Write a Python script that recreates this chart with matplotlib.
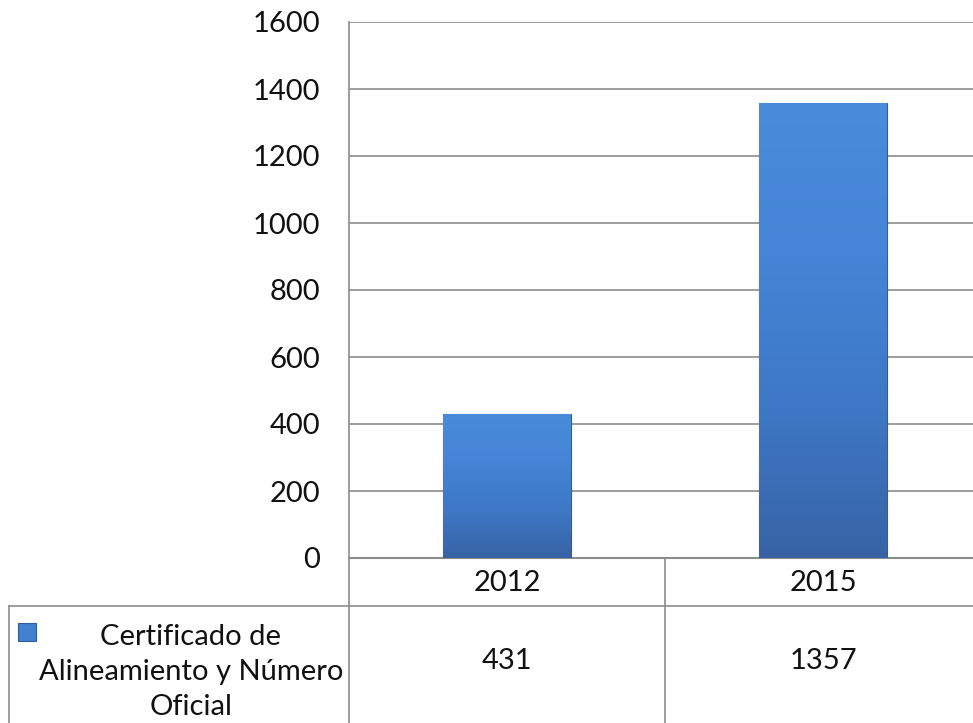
import numpy as np
import matplotlib.pyplot as plt
from matplotlib.lines import Line2D
from matplotlib.colors import LinearSegmentedColormap

# --- Data ---
categories = ["2012", "2015"]
values = [431, 1357]
series_name = "Certificado de\nAlineamiento y Número\nOficial"
yticks = [0, 200, 400, 600, 800, 1000, 1200, 1400, 1600]

W, H = 973, 723
plt.rcParams['font.family'] = ['Lato', 'DejaVu Sans']
GRID = "#8c8c8c"
TXT = "#111111"
FS = 21

fig = plt.figure(figsize=(W / 100, H / 100), dpi=100)


def fx(px):
    return px / W


def fy(py):
    return 1 - py / H


# plot area in pixels
left, top, bottom = 349, 22, 558
cell = 316
ax = fig.add_axes([fx(left), fy(bottom), (2 * cell) / W, (bottom - top) / H])

bars = ax.bar(range(len(values)), values, width=0.405, color="#3f78c6",
              edgecolor="#2f5d9c", linewidth=0.8, zorder=3)

# vertical gradient on the bars
grad = np.linspace(0, 1, 256).reshape(-1, 1)
cmap = LinearSegmentedColormap.from_list("bar", ["#3763a5", "#3e78c6", "#4584d6", "#4a8bdb"])
for b in bars:
    x0, w, h = b.get_x(), b.get_width(), b.get_height()
    im = ax.imshow(grad, cmap=cmap, aspect="auto", origin="lower",
                   extent=[x0, x0 + w, 0, h], zorder=3.5)
    im.set_clip_path(b)
ax.set_xlim(-0.5, 1.5)
ax.set_ylim(0, 1600)

ax.set_yticks(yticks)
ax.set_yticklabels([str(t) for t in yticks], fontsize=FS, color=TXT)
ax.tick_params(axis="y", length=0, pad=21)
ax.set_xticks([])
ax.yaxis.grid(True, color=GRID, linewidth=1.2, zorder=0)
for s in ["top", "right"]:
    ax.spines[s].set_visible(False)
ax.spines["left"].set_color(GRID)
ax.spines["left"].set_linewidth(1.2)
ax.spines["bottom"].set_color(GRID)
ax.spines["bottom"].set_linewidth(1.5)

# --- data table below the chart ---
def line(x0, y0, x1, y1, lw=1.2):
    fig.add_artist(Line2D([fx(x0), fx(x1)], [fy(y0), fy(y1)], color=GRID,
                          linewidth=lw, transform=fig.transFigure))

row_top = 606
line(9, row_top, W, row_top)
line(9, row_top, 9, H)
line(left, bottom, left, H)
for i in range(1, len(categories)):
    line(left + i * cell, bottom, left + i * cell, H)

for i, (cat, v) in enumerate(zip(categories, values)):
    cx = left + cell * i + cell / 2
    fig.text(fx(cx), fy(583), cat, ha="center", va="center", fontsize=FS, color=TXT)
    fig.text(fx(cx), fy(661), str(v), ha="center", va="center", fontsize=FS, color=TXT)

# legend key + series name
fig.patches.append(plt.Rectangle((fx(18), fy(641)), 18 / W, 18 / H,
                                 transform=fig.transFigure, facecolor="#4280d0",
                                 edgecolor="#2f5d9c", linewidth=0.8))
fig.text(fx(191), fy(672), series_name, ha="center", va="center", fontsize=FS,
         color=TXT, linespacing=1.42)

fig.savefig("out.png", dpi=100)
